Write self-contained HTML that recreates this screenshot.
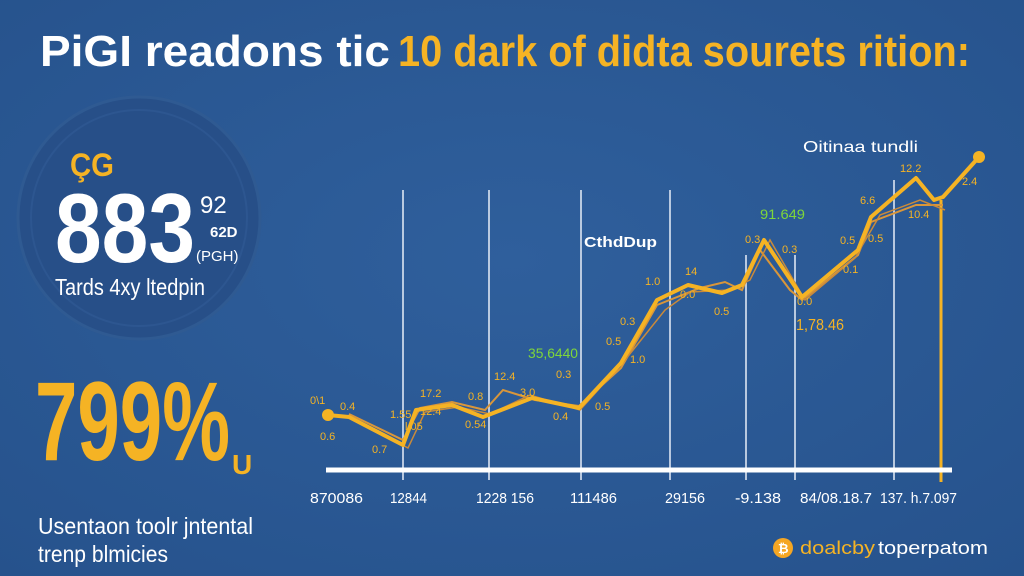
<!DOCTYPE html>
<html><head><meta charset="utf-8"><style>
html,body{margin:0;padding:0;background:#2c5a96;}
svg{display:block;font-family:"Liberation Sans",Arial,sans-serif;}
</style></head><body>
<svg width="1024" height="576" viewBox="0 0 1024 576" xmlns="http://www.w3.org/2000/svg">
<defs>
<radialGradient id="bg" cx="50%" cy="45%" r="75%">
<stop offset="0" stop-color="#2f5f9c"/><stop offset="1" stop-color="#26528c"/>
</radialGradient>
</defs>
<rect width="1024" height="576" fill="url(#bg)"/>
<!-- title -->
<text x="40" y="66" font-size="44" font-weight="bold" fill="#ffffff" textLength="350" lengthAdjust="spacingAndGlyphs">PiGI readons tic</text>
<text x="398" y="66" font-size="44" font-weight="bold" fill="#f5b324" textLength="572" lengthAdjust="spacingAndGlyphs">10 dark of didta sourets rition:</text>
<!-- circle -->
<circle cx="139" cy="218" r="121" fill="#274f88" stroke="#2f5a92" stroke-width="3"/>
<circle cx="139" cy="218" r="108" fill="none" stroke="#2d5690" stroke-width="2"/>
<text x="70" y="176" font-size="32" font-weight="bold" fill="#f5b324" textLength="44" lengthAdjust="spacingAndGlyphs">ÇG</text>
<text x="55" y="262" font-size="98" font-weight="bold" fill="#ffffff" textLength="140" lengthAdjust="spacingAndGlyphs">883</text>
<text x="200" y="213" font-size="24" fill="#ffffff">92</text>
<text x="210" y="237" font-size="15" font-weight="bold" fill="#ffffff">62D</text>
<text x="196" y="261" font-size="15" fill="#ffffff">(PGH)</text>
<text x="55" y="295" font-size="23" fill="#ffffff" textLength="150" lengthAdjust="spacingAndGlyphs">Tards 4xy ltedpin</text>
<!-- big percent -->
<text x="35" y="460" font-size="112" font-weight="bold" fill="#f5b324" textLength="195" lengthAdjust="spacingAndGlyphs">799%</text>
<text x="232" y="474" font-size="28" font-weight="bold" fill="#f5b324">U</text>
<text x="38" y="534" font-size="23" fill="#ffffff" textLength="215" lengthAdjust="spacingAndGlyphs">Usentaon toolr jntental</text>
<text x="38" y="562" font-size="23" fill="#ffffff" textLength="130" lengthAdjust="spacingAndGlyphs">trenp blmicies</text>
<!-- vertical lines -->
<g stroke="#e8eef8" stroke-width="1.5">
<line x1="403" y1="190" x2="403" y2="480"/>
<line x1="489" y1="190" x2="489" y2="480"/>
<line x1="581" y1="190" x2="581" y2="480"/>
<line x1="670" y1="190" x2="670" y2="480"/>
<line x1="746" y1="255" x2="746" y2="480"/>
<line x1="795" y1="255" x2="795" y2="480"/>
<line x1="894" y1="180" x2="894" y2="480"/>
</g>
<line x1="941" y1="200" x2="941" y2="482" stroke="#f5b324" stroke-width="3"/>
<!-- baseline -->
<line x1="326" y1="470" x2="952" y2="470" stroke="#ffffff" stroke-width="5"/>
<!-- secondary lines -->
<polyline fill="none" stroke="#d9963a" stroke-width="2" points="349,414 403,440 420,408 452,402 485,410 503,390 535,400 579,406 621,368 657,305 700,288 725,282 742,290 760,250 790,290 802,300 858,255 871,222 916,205 943,205"/>
<polyline fill="none" stroke="#c98a3a" stroke-width="1.5" points="352,418 408,448 425,412 458,407 490,414 530,395 580,410 625,360 665,310 690,292 730,290 750,280 770,240 805,300 855,258 880,215 920,200 945,210"/>
<!-- main line -->
<polyline fill="none" stroke="#f5b324" stroke-width="4" stroke-linejoin="round" points="328,415 349,417 403,445 416,410 452,405 483,417 532,398 579,408 621,363 657,300 688,285 722,293 742,285 764,240 802,297 858,250 871,217 916,178 934,200 943,197 979,157"/>
<circle cx="328" cy="415" r="6" fill="#f5b324"/>
<circle cx="979" cy="157" r="6" fill="#f5b324"/>
<!-- point labels -->
<g font-size="11" fill="#f5b324">
<text x="310" y="404">0\1</text><text x="340" y="410">0.4</text><text x="320" y="440">0.6</text>
<text x="372" y="453">0.7</text><text x="390" y="418">1.55</text><text x="405" y="430">l.05</text>
<text x="420" y="397">17.2</text><text x="420" y="415">12.4</text><text x="468" y="400">0.8</text>
<text x="465" y="428">0.54</text><text x="494" y="380">12.4</text><text x="520" y="396">3.0</text>
<text x="556" y="378">0.3</text><text x="553" y="420">0.4</text><text x="595" y="410">0.5</text>
<text x="606" y="345">0.5</text><text x="630" y="363">1.0</text><text x="620" y="325">0.3</text>
<text x="645" y="285">1.0</text><text x="685" y="275">14</text><text x="680" y="298">0.0</text>
<text x="714" y="315">0.5</text><text x="745" y="243">0.3</text><text x="782" y="253">0.3</text>
<text x="797" y="305">0.0</text><text x="860" y="204">6.6</text><text x="840" y="244">0.5</text>
<text x="868" y="242">0.5</text><text x="843" y="273">0.1</text><text x="900" y="172">12.2</text>
<text x="908" y="218">10.4</text><text x="962" y="185">2.4</text>
</g>
<text x="528" y="358" font-size="14" fill="#7ed63a" textLength="50" lengthAdjust="spacingAndGlyphs">35,6440</text>
<text x="760" y="219" font-size="14" fill="#7ed63a" textLength="45" lengthAdjust="spacingAndGlyphs">91.649</text>
<text x="796" y="330" font-size="16" fill="#f5b324" textLength="48" lengthAdjust="spacingAndGlyphs">1,78.46</text>
<text x="584" y="247" font-size="15" font-weight="bold" fill="#ffffff" textLength="73" lengthAdjust="spacingAndGlyphs">CthdDup</text>
<text x="803" y="152" font-size="16" fill="#ffffff" textLength="115" lengthAdjust="spacingAndGlyphs">Oitinaa tundli</text>
<!-- x labels -->
<g font-size="15" fill="#ffffff">
<text x="310" y="503" textLength="53" lengthAdjust="spacingAndGlyphs">870086</text>
<text x="390" y="503" textLength="37" lengthAdjust="spacingAndGlyphs">12844</text>
<text x="476" y="503" textLength="58" lengthAdjust="spacingAndGlyphs">1228 156</text>
<text x="570" y="503" textLength="47" lengthAdjust="spacingAndGlyphs">111486</text>
<text x="665" y="503" textLength="40" lengthAdjust="spacingAndGlyphs">29156</text>
<text x="735" y="503" textLength="46" lengthAdjust="spacingAndGlyphs">-9.138</text>
<text x="800" y="503" textLength="72" lengthAdjust="spacingAndGlyphs">84/08.18.7</text>
<text x="880" y="503" textLength="77" lengthAdjust="spacingAndGlyphs">137. h.7.097</text>
</g>
<!-- footer -->
<circle cx="783" cy="548" r="10" fill="#f5a623"/>
<text x="778" y="553" font-size="13" font-weight="bold" fill="#ffffff">₿</text>
<text x="800" y="554" font-size="18" fill="#f5b324" textLength="75" lengthAdjust="spacingAndGlyphs">doalcby</text>
<text x="878" y="554" font-size="18" fill="#ffffff" textLength="110" lengthAdjust="spacingAndGlyphs">toperpatom</text>
</svg>
</body></html>
